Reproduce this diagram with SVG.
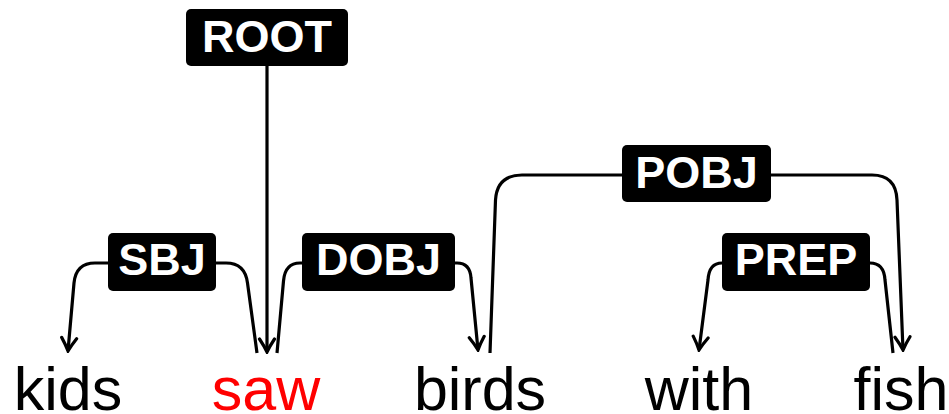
<svg xmlns="http://www.w3.org/2000/svg" width="949" height="414" viewBox="0 0 949 414">
  <style>
    .word { font-family: "Liberation Sans", Arial, sans-serif; font-size: 61px; text-anchor: middle; fill: #000; }
    .head { fill: #ff0000; }
    .lbl rect { fill: #000; }
    .lbl text { font-family: "Liberation Sans", Arial, sans-serif; font-weight: bold; font-size: 45px; text-anchor: middle; fill: #fff; }
    .edge { fill: none; stroke: #000; stroke-width: 3.2; stroke-linejoin: round; }
    .arrow { marker-end: url(#tip); }
  </style>
  <defs>
    <marker id="tip" viewBox="-16 -10 18 20" markerWidth="18" markerHeight="20" refX="0" refY="0" orient="auto" markerUnits="userSpaceOnUse">
      <path d="M -13 -7.5 C -7 -3.5 -2.5 -1.2 0 0 C -2.5 1.2 -7 3.5 -13 7.5" fill="none" stroke="#000" stroke-width="3.2" stroke-linecap="round"/>
    </marker>
  </defs>

  <!-- dependency arcs -->
  <g id="connectors">
    <!-- ROOT -> saw -->
    <path class="edge arrow" d="M 267 66 L 267 352"/>
    <!-- SBJ: saw -> kids -->
    <path class="edge" d="M 257 353 L 247.5 283 Q 245 263 226 263 L 216 263"/>
    <path class="edge arrow" d="M 108 263 L 95 263 Q 76 263 74 283 L 68 351"/>
    <!-- DOBJ: saw -> birds -->
    <path class="edge" d="M 277 353 L 283.5 281 Q 285 263 300 263 L 302 263"/>
    <path class="edge arrow" d="M 455 263 L 457 263 Q 470 263 471 278 L 478 350"/>
    <!-- POBJ: birds -> fish -->
    <path class="edge" d="M 490 353 L 495.5 200 Q 497 175 522 175 L 622 175"/>
    <path class="edge arrow" d="M 771 175 L 872 175 Q 896 175 897 200 L 903 350"/>
    <!-- PREP: fish -> with -->
    <path class="edge arrow" d="M 722 263 Q 709 263 708 280 L 699 350"/>
    <path class="edge" d="M 870 263 Q 884 263 885 280 L 893 353"/>
  </g>

  <!-- arc labels -->
  <g id="label-root" class="lbl">
    <rect x="186" y="9" width="162" height="57" rx="5"/>
    <text x="267" y="52">ROOT</text>
  </g>
  <g id="label-sbj" class="lbl">
    <rect x="108" y="233" width="108" height="58" rx="5"/>
    <text x="162" y="275">SBJ</text>
  </g>
  <g id="label-dobj" class="lbl">
    <rect x="302" y="233" width="153" height="58" rx="5"/>
    <text x="378.5" y="275">DOBJ</text>
  </g>
  <g id="label-pobj" class="lbl">
    <rect x="622" y="145" width="149" height="57" rx="5"/>
    <text x="696.5" y="188">POBJ</text>
  </g>
  <g id="label-prep" class="lbl">
    <rect x="722" y="233" width="148" height="58" rx="5"/>
    <text x="796" y="275">PREP</text>
  </g>

  <!-- sentence tokens -->
  <g id="word-kids"><text class="word" x="68" y="410">kids</text></g>
  <g id="word-saw"><text class="word head" x="266" y="410">saw</text></g>
  <g id="word-birds"><text class="word" x="480" y="410">birds</text></g>
  <g id="word-with"><text class="word" x="699" y="410">with</text></g>
  <g id="word-fish"><text class="word" x="901" y="410">fish</text></g>
</svg>
